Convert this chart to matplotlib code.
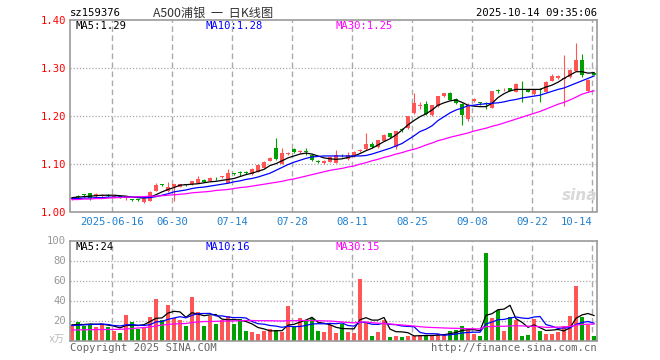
import matplotlib
matplotlib.use("Agg")
import matplotlib.pyplot as plt
import pandas as pd

plt.rcParams['font.family'] = ['DejaVu Sans Mono', 'Noto Sans CJK SC']
plt.rcParams['font.size'] = 7.2

W, H = 660, 360

# 交易日 (国庆休市 10-01 ~ 10-08)
days = pd.bdate_range("2025-06-05", "2025-10-14")
days = days[(days < "2025-10-01") | (days > "2025-10-08")]
dates = [d.strftime("%Y-%m-%d") for d in days]

opens = [1.026, 1.032, 1.035, 1.038, 1.033, 1.032, 1.034, 1.030, 1.032, 1.029,
         1.025, 1.025, 1.019, 1.022, 1.043, 1.056, 1.043, 1.051, 1.052, 1.057,
         1.057, 1.060, 1.066, 1.064, 1.070, 1.072, 1.060, 1.079, 1.081, 1.082,
         1.078, 1.083, 1.091, 1.106, 1.133, 1.100, 1.121, 1.131, 1.125, 1.126,
         1.119, 1.105, 1.101, 1.104, 1.102, 1.118, 1.109, 1.114, 1.127, 1.130,
         1.142, 1.134, 1.148, 1.163, 1.134, 1.171, 1.174, 1.205, 1.220, 1.225,
         1.201, 1.220, 1.241, 1.248, 1.236, 1.225, 1.194, 1.231, 1.227, 1.225,
         1.217, 1.253, 1.253, 1.257, 1.250, 1.255, 1.255, 1.245, 1.255, 1.250,
         1.273, 1.278, 1.277, 1.280, 1.294, 1.316, 1.252, 1.290]
closes = [1.029, 1.031, 1.034, 1.029, 1.036, 1.035, 1.033, 1.032, 1.031, 1.032,
          1.024, 1.024, 1.027, 1.041, 1.056, 1.055, 1.052, 1.057, 1.057, 1.056,
          1.063, 1.067, 1.062, 1.071, 1.069, 1.073, 1.080, 1.078, 1.080, 1.081,
          1.089, 1.097, 1.104, 1.112, 1.110, 1.123, 1.122, 1.124, 1.126, 1.125,
          1.107, 1.104, 1.106, 1.114, 1.118, 1.117, 1.118, 1.125, 1.128, 1.142,
          1.135, 1.149, 1.160, 1.155, 1.168, 1.170, 1.199, 1.227, 1.221, 1.203,
          1.222, 1.241, 1.247, 1.233, 1.226, 1.202, 1.222, 1.236, 1.226, 1.224,
          1.251, 1.252, 1.254, 1.252, 1.267, 1.254, 1.250, 1.254, 1.254, 1.271,
          1.282, 1.284, 1.279, 1.296, 1.316, 1.285, 1.275, 1.286]
highs = [1.031, 1.034, 1.037, 1.039, 1.038, 1.036, 1.036, 1.034, 1.033, 1.033,
         1.026, 1.026, 1.028, 1.042, 1.060, 1.058, 1.062, 1.058, 1.058, 1.058,
         1.064, 1.074, 1.067, 1.073, 1.073, 1.075, 1.088, 1.081, 1.085, 1.084,
         1.090, 1.099, 1.106, 1.113, 1.154, 1.132, 1.124, 1.132, 1.128, 1.132,
         1.120, 1.107, 1.107, 1.115, 1.128, 1.121, 1.124, 1.126, 1.130, 1.165,
         1.145, 1.150, 1.161, 1.164, 1.169, 1.174, 1.200, 1.247, 1.228, 1.231,
         1.223, 1.242, 1.248, 1.249, 1.237, 1.226, 1.226, 1.237, 1.229, 1.228,
         1.252, 1.256, 1.257, 1.258, 1.268, 1.273, 1.256, 1.255, 1.258, 1.272,
         1.287, 1.285, 1.327, 1.297, 1.353, 1.330, 1.276, 1.291]
lows = [1.025, 1.029, 1.031, 1.025, 1.030, 1.031, 1.031, 1.029, 1.029, 1.023,
        1.021, 1.022, 1.018, 1.021, 1.042, 1.054, 1.041, 1.022, 1.051, 1.054,
        1.056, 1.059, 1.061, 1.063, 1.066, 1.071, 1.059, 1.076, 1.075, 1.079,
        1.077, 1.082, 1.090, 1.105, 1.108, 1.099, 1.119, 1.123, 1.123, 1.118,
        1.105, 1.101, 1.100, 1.103, 1.101, 1.113, 1.108, 1.113, 1.125, 1.129,
        1.132, 1.133, 1.147, 1.154, 1.131, 1.167, 1.173, 1.204, 1.214, 1.201,
        1.200, 1.219, 1.240, 1.232, 1.225, 1.181, 1.190, 1.229, 1.223, 1.214,
        1.216, 1.248, 1.251, 1.251, 1.249, 1.229, 1.249, 1.244, 1.229, 1.249,
        1.272, 1.277, 1.220, 1.279, 1.293, 1.280, 1.250, 1.285]

ma5 = [1.029, 1.030, 1.031, 1.032, 1.033, 1.034, 1.034, 1.034, 1.033, 1.032,
       1.030, 1.029, 1.028, 1.030, 1.035, 1.041, 1.046, 1.050, 1.055, 1.056,
       1.057, 1.058, 1.060, 1.062, 1.063, 1.065, 1.067, 1.069, 1.073, 1.077,
       1.080, 1.084, 1.088, 1.096, 1.100, 1.106, 1.112, 1.116, 1.120, 1.122,
       1.120, 1.116, 1.112, 1.110, 1.109, 1.110, 1.113, 1.116, 1.121, 1.127,
       1.132, 1.139, 1.146, 1.152, 1.160, 1.170, 1.181, 1.190, 1.198, 1.204,
       1.212, 1.222, 1.227, 1.231, 1.233, 1.228, 1.222, 1.220, 1.219, 1.219,
       1.226, 1.238, 1.246, 1.252, 1.255, 1.255, 1.255, 1.255, 1.255, 1.260,
       1.264, 1.270, 1.278, 1.285, 1.292, 1.292, 1.289, 1.290]
ma10 = [1.027, 1.027, 1.028, 1.028, 1.029, 1.029, 1.030, 1.030, 1.030, 1.030,
        1.030, 1.030, 1.029, 1.029, 1.031, 1.034, 1.037, 1.041, 1.043, 1.045,
        1.048, 1.050, 1.051, 1.053, 1.055, 1.057, 1.059, 1.062, 1.064, 1.067,
        1.069, 1.072, 1.076, 1.080, 1.086, 1.092, 1.098, 1.103, 1.107, 1.111,
        1.114, 1.115, 1.116, 1.116, 1.116, 1.116, 1.116, 1.116, 1.116, 1.117,
        1.120, 1.124, 1.128, 1.132, 1.137, 1.142, 1.150, 1.158, 1.167, 1.172,
        1.179, 1.190, 1.198, 1.206, 1.212, 1.216, 1.221, 1.222, 1.224, 1.225,
        1.226, 1.227, 1.229, 1.232, 1.234, 1.237, 1.239, 1.241, 1.243, 1.247,
        1.251, 1.255, 1.258, 1.263, 1.268, 1.273, 1.278, 1.283]
ma30 = [1.025, 1.025, 1.026, 1.026, 1.027, 1.027, 1.028, 1.029, 1.029, 1.030,
        1.030, 1.031, 1.031, 1.032, 1.032, 1.033, 1.034, 1.035, 1.036, 1.037,
        1.039, 1.040, 1.041, 1.042, 1.044, 1.045, 1.046, 1.048, 1.050, 1.051,
        1.053, 1.055, 1.057, 1.059, 1.061, 1.063, 1.066, 1.068, 1.071, 1.074,
        1.077, 1.080, 1.083, 1.086, 1.088, 1.090, 1.093, 1.095, 1.099, 1.102,
        1.106, 1.109, 1.113, 1.116, 1.120, 1.123, 1.127, 1.130, 1.134, 1.139,
        1.143, 1.148, 1.151, 1.155, 1.158, 1.161, 1.164, 1.168, 1.171, 1.174,
        1.178, 1.181, 1.185, 1.189, 1.193, 1.197, 1.201, 1.205, 1.209, 1.214,
        1.219, 1.224, 1.228, 1.233, 1.239, 1.245, 1.249, 1.252]

# 成交量 (万)
volumes = [16, 19, 15, 17, 14, 17, 14, 10, 8, 26,
           19, 12, 14, 24, 42, 21, 36, 23, 21, 15,
           44, 29, 15, 25, 17, 21, 25, 17, 22, 10,
           9, 7, 10, 12, 11, 9, 35, 14, 23, 21,
           23, 10, 9, 16, 8, 17, 9, 8, 62, 18,
           5, 9, 21, 4, 5, 4, 5, 5, 5, 5,
           5, 7, 7, 10, 11, 15, 11, 7, 5, 88,
           23, 31, 10, 24, 21, 5, 6, 22, 10, 7,
           7, 9, 15, 25, 55, 24, 16, 5]
vol_ma5 = [15.7, 16.0, 16.0, 16.5, 16.2, 16.4, 15.4, 14.4, 12.6, 15.0,
           15.4, 15.0, 15.8, 19.0, 22.2, 22.6, 27.4, 29.2, 28.6, 23.2,
           27.8, 26.4, 24.8, 25.6, 26.0, 21.4, 20.6, 21.0, 20.4, 19.0,
           16.6, 13.0, 11.6, 9.6, 9.8, 9.8, 15.4, 16.2, 18.4, 20.4,
           23.2, 18.2, 17.2, 15.8, 13.2, 12.0, 11.8, 11.6, 20.8, 22.8,
           20.4, 20.4, 23.0, 11.4, 8.8, 8.6, 7.8, 4.6, 4.8, 5.0,
           5.0, 5.4, 5.8, 6.8, 8.0, 10.0, 10.8, 10.8, 9.8, 25.2,
           26.8, 30.8, 31.4, 35.2, 21.8, 18.2, 13.2, 15.6, 12.8, 10.0,
           10.4, 11.0, 9.6, 12.6, 22.2, 25.6, 27.0, 25.0]
vol_ma10 = [15.0, 15.3, 15.6, 16.0, 16.2, 16.4, 16.0, 15.0, 14.5, 15.6,
            15.9, 15.2, 15.1, 15.8, 18.6, 19.0, 21.2, 22.5, 23.8, 22.7,
            25.2, 26.9, 27.0, 27.1, 24.6, 24.6, 23.5, 22.9, 23.0, 22.5,
            19.0, 16.8, 16.3, 15.0, 14.4, 13.2, 14.2, 13.9, 14.0, 15.1,
            16.5, 16.8, 16.7, 17.1, 16.8, 17.6, 15.0, 14.4, 18.3, 18.0,
            16.2, 16.1, 17.3, 16.1, 15.8, 14.5, 14.1, 13.8, 8.1, 6.8,
            6.8, 6.6, 5.2, 5.8, 6.4, 7.5, 8.1, 8.3, 8.3, 16.6,
            18.4, 20.8, 21.1, 22.5, 23.5, 22.5, 22.0, 23.5, 24.0, 15.9,
            14.3, 12.1, 12.6, 12.7, 16.1, 18.0, 19.0, 17.3]
vol_ma30 = [10.5, 10.6, 10.7, 10.8, 10.9, 11.0, 11.0, 11.1, 11.2, 11.5,
            12.0, 12.5, 13.0, 13.5, 14.5, 15.5, 16.0, 16.5, 16.8, 17.0,
            18.0, 18.5, 19.0, 19.0, 19.2, 19.4, 19.5, 19.6, 19.8, 20.0,
            20.0, 19.8, 19.8, 19.8, 19.6, 19.5, 19.8, 19.8, 20.0, 20.0,
            20.0, 19.8, 19.6, 19.5, 19.0, 18.5, 18.0, 17.6, 18.5, 18.5,
            17.8, 17.3, 17.0, 16.5, 16.0, 15.5, 15.0, 14.5, 13.8, 13.3,
            13.0, 12.8, 12.5, 12.3, 12.2, 12.0, 11.8, 11.7, 11.6, 13.8,
            14.0, 14.3, 14.2, 14.5, 14.8, 14.6, 14.3, 14.2, 13.8, 13.1,
            13.2, 13.4, 13.6, 14.0, 15.5, 16.0, 16.3, 16.4]

tick_dates = ["2025-06-16", "2025-06-30", "2025-07-14", "2025-07-28", "2025-08-11",
              "2025-08-25", "2025-09-08", "2025-09-22", "2025-10-14"]
tick_labels = ["2025-06-16", "06-30", "07-14", "07-28", "08-11",
               "08-25", "09-08", "09-22", "10-14"]
price_ticks = [1.00, 1.10, 1.20, 1.30, 1.40]
vol_ticks = [20, 40, 60, 80, 100]

RED = '#ff5555'
GREEN = '#00a000'
GRID = '#aaaaaa'
FRAME = '#999999'

fig = plt.figure(figsize=(W / 100, H / 100), dpi=100)


def fx(x):
    return x / W


def fy(y):
    return 1 - y / H


ax1 = fig.add_axes([fx(70), fy(211.5), 527 / W, 191.5 / H])
ax2 = fig.add_axes([fx(70), fy(340.5), 527 / W, 100 / H])

x = list(range(len(dates)))
colors = [RED if c >= o else GREEN for o, c in zip(opens, closes)]
body_bot = [min(o, c) for o, c in zip(opens, closes)]
body_h = [max(abs(c - o), 0.0018) for o, c in zip(opens, closes)]
tick_pos = [dates.index(d) - 0.28 for d in tick_dates]

for ax in (ax1, ax2):
    ax.set_xlim(-0.333, 87.5)
    for s in ax.spines.values():
        s.set_color(FRAME)
        s.set_linewidth(1.2)
    for p in tick_pos:
        ax.axvline(p, color=GRID, lw=1.0, ls=(0, (4, 2.5)), zorder=0)

# K线
ax1.vlines(x, lows, highs, colors=colors, lw=0.8, zorder=2)
ax1.bar(x, body_h, bottom=body_bot, width=0.8, color=colors, lw=0, zorder=3)
ax1.plot(x, ma5, color='black', lw=0.9, zorder=4)
ax1.plot(x, ma10, color='#0000ff', lw=0.9, zorder=4)
ax1.plot(x, ma30, color='#ff00ff', lw=0.9, zorder=4)
for v in price_ticks[1:-1]:
    ax1.axhline(v, color=GRID, lw=0.9, ls=(0, (1, 1.5)), zorder=0)
ax1.set_ylim(1.00, 1.40)
ax1.set_yticks(price_ticks, [f"{v:.2f}" for v in price_ticks])
ax1.tick_params(axis='y', length=0, pad=3, labelcolor='red', labelsize=7.6)
ax1.set_xticks(tick_pos, tick_labels)
ax1.tick_params(axis='x', length=0, pad=4, labelcolor='#1e80d0', labelsize=7.6)
ax1.get_xticklabels()[-1].set_ha('right')

# 成交量
ax2.bar(x, volumes, width=0.8, color=colors, lw=0, zorder=2)
ax2.plot(x, vol_ma5, color='black', lw=0.9, zorder=4)
ax2.plot(x, vol_ma10, color='#0000ff', lw=0.9, zorder=4)
ax2.plot(x, vol_ma30, color='#ff00ff', lw=0.9, zorder=4)
for v in vol_ticks[:-1]:
    ax2.axhline(v, color=GRID, lw=0.9, ls=(0, (1, 1.5)), zorder=0)
ax2.set_ylim(0, 100)
ax2.set_yticks(vol_ticks, [str(v) for v in vol_ticks])
ax2.tick_params(axis='y', length=0, pad=3, labelcolor='#999999', labelsize=7.6)
ax2.set_xticks([])

# 文字
fig.text(fx(70), fy(13), "sz159376", ha='left', va='center', color='black', fontsize=7.6)
fig.text(fx(213), fy(13), "A500浦银  一  日K线图", ha='center', va='center', color='#333333',
         fontsize=8.8, family=['Noto Sans CJK SC', 'DejaVu Sans'])
fig.text(fx(597), fy(13), "2025-10-14 09:35:06", ha='right', va='center', color='black', fontsize=7.6)

fig.text(fx(75), fy(26), f"MA5:{ma5[-1]:.2f}", ha='left', va='center', color='black', fontsize=7.6)
fig.text(fx(205), fy(26), f"MA10:{ma10[-1]:.2f}", ha='left', va='center', color='#0000ff', fontsize=7.6)
fig.text(fx(335), fy(26), f"MA30:{ma30[-1]:.2f}", ha='left', va='center', color='#ff00ff', fontsize=7.6)
fig.text(fx(75), fy(247), "MA5:24", ha='left', va='center', color='black', fontsize=7.6)
fig.text(fx(205), fy(247), "MA10:16", ha='left', va='center', color='#0000ff', fontsize=7.6)
fig.text(fx(335), fy(247), "MA30:15", ha='left', va='center', color='#ff00ff', fontsize=7.6)

fig.text(fx(65), fy(339), "x万", ha='right', va='center', color='#bbbbbb', fontsize=7.2,
         family=['DejaVu Sans Mono', 'Noto Sans CJK SC'])
fig.text(fx(70), fy(348), "Copyright 2025 SINA.COM", ha='left', va='center', color='#666666', fontsize=7.6)
fig.text(fx(597), fy(348), "http://finance.sina.com.cn", ha='right', va='center', color='#666666', fontsize=7.6)
fig.text(fx(580), fy(196), "sina", ha='center', va='center', color='#d8d8d8', fontsize=11,
         style='italic', weight='bold', family='DejaVu Sans')

fig.savefig("out.png", dpi=100)
